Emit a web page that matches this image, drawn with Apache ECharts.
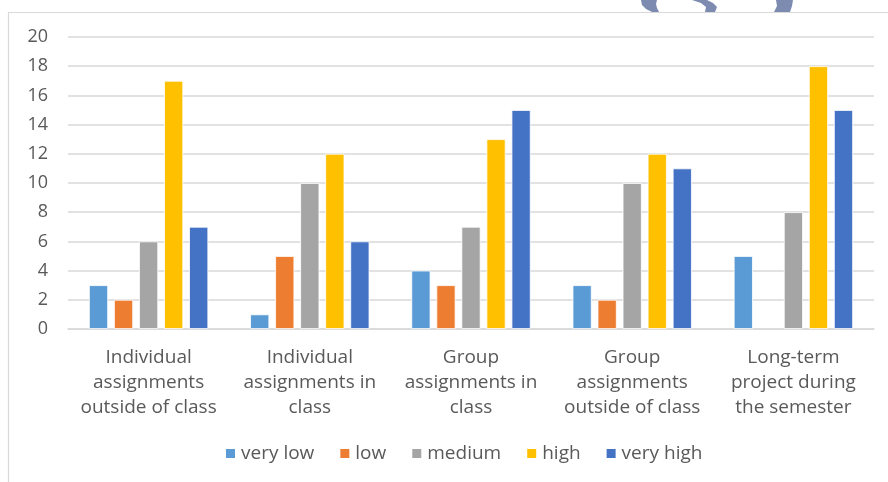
<!DOCTYPE html>
<html>
<head>
<meta charset="utf-8">
<script src="https://cdn.jsdelivr.net/npm/echarts@6/dist/echarts.min.js"></script>
<style>
  html, body { margin: 0; padding: 0; background: #ffffff; }
  #chart { width: 888px; height: 482px; }
</style>
</head>
<body>
<div id="chart"></div>
<script>
// Activity types (wrapped onto three lines under each group)
const categories = [
  'Individual\nassignments\noutside of class',
  'Individual\nassignments in\nclass',
  'Group\nassignments in\nclass',
  'Group\nassignments\noutside of class',
  'Long-term\nproject during\nthe semester'
];

// Number of responses per rating level
const veryLow  = [3, 1, 4, 3, 5];
const low      = [2, 5, 3, 2, null];
const medium   = [6, 10, 7, 10, 8];
const high     = [17, 12, 13, 12, 18];
const veryHigh = [7, 6, 15, 11, 15];

const seriesNames = ['very low', 'low', 'medium', 'high', 'very high'];
const seriesData = [veryLow, low, medium, high, veryHigh];
const colors = ['#5B9BD5', '#ED7D31', '#A5A5A5', '#FFC000', '#4472C4'];

const FONT = '"Open Sans", Lato, sans-serif';
const TEXT = '#595959';
const EMBLEM = '#7d8bb1';

const chart = echarts.init(document.getElementById('chart'), null, { renderer: 'canvas' });

chart.setOption({
  animation: false,
  backgroundColor: '#ffffff',
  color: colors,
  graphic: [
    // partial emblem peeking above the frame
    {
      type: 'polygon',
      shape: { points: [[641, 0], [657, 0], [656, 4], [657, 8], [659, 12], [652, 12], [646, 9], [642, 5]] },
      style: { fill: EMBLEM }
    },
    {
      type: 'polygon',
      shape: { points: [[692, 0], [707, 0], [713, 3], [717, 7], [715, 12], [705, 12], [706, 7], [701, 3]] },
      style: { fill: EMBLEM }
    },
    {
      type: 'polygon',
      shape: { points: [[776, 0], [793, 0], [792, 6], [790, 12], [774, 12], [777, 6]] },
      style: { fill: EMBLEM }
    },
    // chart frame
    {
      type: 'rect',
      shape: { x: 8.5, y: 12.5, width: 900, height: 500 },
      style: { fill: 'none', stroke: '#d9d9d9', lineWidth: 1.2 }
    }
  ],
  legend: {
    data: seriesNames,
    bottom: 14,
    left: 219,
    itemWidth: 11,
    itemHeight: 11,
    itemGap: 24,
    icon: 'rect',
    textStyle: { color: TEXT, fontSize: 19, fontFamily: FONT }
  },
  grid: {
    left: 68,
    right: 14,
    top: 37,
    bottom: 153,
    containLabel: false
  },
  xAxis: {
    type: 'category',
    data: categories,
    axisLine: { lineStyle: { color: '#d9d9d9', width: 1.5 } },
    axisTick: { show: false },
    axisLabel: {
      color: TEXT,
      fontSize: 19,
      fontFamily: FONT,
      lineHeight: 25,
      margin: 16,
      interval: 0
    }
  },
  yAxis: {
    type: 'value',
    min: 0,
    max: 20,
    interval: 2,
    axisLine: { show: false },
    axisTick: { show: false },
    splitLine: { lineStyle: { color: '#d9d9d9', width: 1.5 } },
    axisLabel: {
      color: TEXT,
      fontSize: 18,
      fontFamily: FONT,
      margin: 20
    }
  },
  series: seriesNames.map((name, i) => ({
    name: name,
    type: 'bar',
    data: seriesData[i],
    barGap: '31%',
    barCategoryGap: '26%',
    itemStyle: { color: colors[i], borderColor: '#ffffff', borderWidth: 0.8 }
  }))
});
</script>
</body>
</html>
